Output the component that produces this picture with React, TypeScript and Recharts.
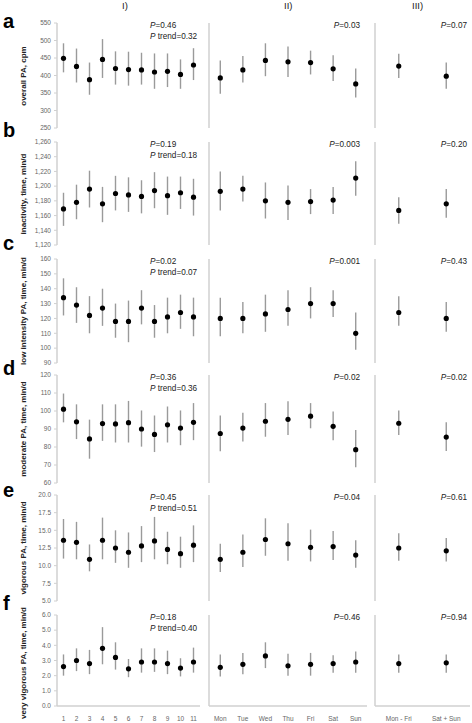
import { ComposedChart, ErrorBar, Line, XAxis, YAxis } from "recharts";

const FONT = '"Liberation Sans", Arial, sans-serif';

// categories
const CAT_TIME = ["1", "2", "3", "4", "5", "6", "7", "8", "9", "10", "11"];
const CAT_DAY = ["Mon", "Tue", "Wed", "Thu", "Fri", "Sat", "Sun"];
const CAT_PART = ["Mon - Fri", "Sat + Sun"];

// [mean, lower, upper]
const overallTime = [[449, 409, 492], [426, 380, 477], [388, 345, 437], [446, 393, 504], [420, 374, 469], [417, 371, 468], [416, 374, 465], [410, 362, 463], [412, 367, 463], [403, 362, 446], [430, 387, 478]];
const overallDay = [[393, 348, 443], [416, 380, 456], [443, 398, 492], [439, 396, 483], [437, 403, 471], [419, 384, 458], [376, 337, 420]];
const overallPart = [[427, 393, 462], [398, 362, 437]];

const inactTime = [[1169, 1146, 1191], [1178, 1155, 1202], [1196, 1171, 1221], [1176, 1151, 1199], [1190, 1167, 1214], [1188, 1165, 1212], [1186, 1163, 1208], [1194, 1170, 1219], [1187, 1161, 1213], [1191, 1169, 1213], [1185, 1160, 1210]];
const inactDay = [[1193, 1167, 1220], [1196, 1179, 1214], [1180, 1156, 1205], [1178, 1154, 1201], [1179, 1162, 1196], [1181, 1162, 1199], [1211, 1187, 1234]];
const inactPart = [[1167, 1149, 1185], [1176, 1157, 1196]];

const lightTime = [[134, 122, 147], [129, 117, 141], [122, 110, 135], [127, 115, 140], [118, 107, 130], [118, 104, 132], [127, 116, 139], [118, 107, 129], [121, 110, 134], [124, 113, 136], [121, 108, 134]];
const lightDay = [[120, 108, 134], [120, 110, 131], [123, 111, 136], [126, 115, 139], [130, 120, 141], [130, 121, 139], [110, 99, 124]];
const lightPart = [[124, 115, 135], [120, 111, 131]];

const modTime = [[101, 93.7, 109.7], [94, 84.4, 103.7], [84.5, 73.5, 95.2], [93, 83.4, 103.7], [92.8, 82.5, 103.7], [93.5, 82.5, 105.6], [90, 80.2, 100.3], [87, 77.2, 97.5], [92.3, 82.5, 102.5], [90.5, 81, 100.3], [93.7, 83.8, 104.4]];
const modDay = [[87.5, 77.6, 97.5], [90.5, 83, 99], [94.3, 85.7, 104.4], [95.4, 86.6, 105.4], [97.1, 90.4, 104.4], [91.5, 83.8, 99.7], [78.5, 68.8, 89.4]];
const modPart = [[93.2, 86.6, 100.3], [85.5, 77.8, 93.7]];

const vigTime = [[13.6, 11.0, 16.6], [13.3, 10.9, 16.2], [10.9, 9.2, 13.0], [13.6, 10.9, 16.8], [12.5, 10.4, 15.0], [11.9, 9.7, 14.7], [12.8, 10.5, 15.6], [13.5, 10.9, 16.9], [12.3, 10.2, 14.8], [11.7, 9.7, 14.1], [12.9, 10.5, 15.7]];
const vigDay = [[10.9, 9.1, 13.1], [11.9, 9.8, 14.4], [13.7, 11.4, 16.7], [13.1, 10.7, 16.0], [12.6, 10.6, 15.1], [12.7, 10.8, 14.9], [11.5, 9.7, 13.6]];
const vigPart = [[12.5, 10.7, 14.6], [12.1, 10.6, 13.9]];

const vvigTime = [[2.6, 2.0, 3.4], [3.0, 2.3, 3.8], [2.8, 2.1, 3.7], [3.8, 2.75, 5.2], [3.2, 2.4, 4.2], [2.45, 1.9, 3.1], [2.9, 2.2, 3.8], [2.9, 2.25, 3.8], [2.8, 2.1, 3.65], [2.5, 1.95, 3.15], [2.9, 2.2, 3.85]];
const vvigDay = [[2.55, 1.95, 3.4], [2.75, 2.1, 3.5], [3.3, 2.5, 4.2], [2.65, 2.0, 3.45], [2.75, 2.0, 3.5], [2.8, 2.2, 3.35], [2.9, 2.2, 3.6]];
const vvigPart = [[2.8, 2.2, 3.4], [2.85, 2.2, 3.4]];

// y ticks
const TICKS_A = [250, 300, 350, 400, 450, 500, 550];
const TICKS_B = [1120, 1140, 1160, 1180, 1200, 1220, 1240, 1260];
const TICKS_C = [90, 100, 110, 120, 130, 140, 150, 160];
const TICKS_D = [60, 65, 70, 75, 80, 85, 90, 95, 100, 105, 110, 115, 120];
const TICKS_E = [5, 7.5, 10, 12.5, 15, 17.5, 20];
const TICKS_F = [0, 1, 2, 3, 4, 5, 6];

const Y_LABELS = [
  "overall PA, cpm",
  "inactivity, time, min/d",
  "low intensity PA, time, min/d",
  "moderate PA, time, min/d",
  "vigorous PA, time, min/d",
  "very vigorous PA, time, min/d",
];
const LETTERS = ["a", "b", "c", "d", "e", "f"];
const P_TIME = ["0.46", "0.19", "0.02", "0.36", "0.45", "0.18"];
const P_TREND = ["0.32", "0.18", "0.07", "0.36", "0.51", "0.40"];
const P_DAY = ["0.03", "0.003", "0.001", "0.02", "0.04", "0.46"];
const P_PART = ["0.07", "0.20", "0.43", "0.02", "0.61", "0.94"];

const comma = (v: number) => v.toLocaleString("en-US");
const oneDec = (v: number) => v.toFixed(1);

const ROWS = [
  { time: overallTime, day: overallDay, part: overallPart, ticks: TICKS_A, fmt: String, top: 23, bottom: 128, letterY: 28 },
  { time: inactTime, day: inactDay, part: inactPart, ticks: TICKS_B, fmt: comma, top: 142, bottom: 245, letterY: 137 },
  { time: lightTime, day: lightDay, part: lightPart, ticks: TICKS_C, fmt: String, top: 259, bottom: 363, letterY: 250 },
  { time: modTime, day: modDay, part: modPart, ticks: TICKS_D, fmt: String, top: 375, bottom: 483, letterY: 375 },
  { time: vigTime, day: vigDay, part: vigPart, ticks: TICKS_E, fmt: oneDec, top: 495, bottom: 601, letterY: 497 },
  { time: vvigTime, day: vvigDay, part: vvigPart, ticks: TICKS_F, fmt: oneDec, top: 615, bottom: 706, letterY: 610 },
];

// panel columns: chart left, plot left, plot right
const COLS = [
  { x: 0, left: 57, right: 200, key: "time" },
  { x: 205, left: 209, right: 367, key: "day" },
  { x: 371, left: 375, right: 470, key: "part" },
];
const CATS: Record<string, string[]> = { time: CAT_TIME, day: CAT_DAY, part: CAT_PART };

const AXIS = "#d0d0d0";
const TICK_TEXT = "#666";

function Panel({ cats, values, ticks, fmt, col, top, bottom, showX, showY }: any) {
  const data = cats.map((c: string, i: number) => ({
    name: c,
    mean: values[i][0],
    err: [values[i][0] - values[i][1], values[i][2] - values[i][0]],
  }));
  const xH = showX ? 16 : 0;
  const domain = [ticks[0], ticks[ticks.length - 1]];
  return (
    <div style={{ position: "absolute", left: col.x, top: top - 6 }}>
      <ComposedChart
        width={col.right - col.x + 2}
        height={bottom - top + 10 + xH}
        data={data}
        margin={{ top: 6, right: 2, bottom: 4, left: 0 }}
      >
        <XAxis
          dataKey="name"
          type="category"
          scale="band"
          height={xH}
          axisLine={{ stroke: AXIS, strokeWidth: 1.5 }}
          tickLine={false}
          tick={showX ? { fill: TICK_TEXT, fontSize: 6.5, fontFamily: FONT } : false}
          tickMargin={4}
          interval={0}
        />
        <YAxis
          type="number"
          domain={domain}
          ticks={ticks}
          width={col.left - col.x}
          allowDataOverflow
          axisLine={{ stroke: AXIS, strokeWidth: 1.5 }}
          tickLine={{ stroke: AXIS }}
          tickSize={3}
          tickMargin={3}
          tickFormatter={fmt}
          tick={showY ? { fill: TICK_TEXT, fontSize: 6.5, fontFamily: FONT } : false}
        />
        <Line
          dataKey="mean"
          stroke="none"
          isAnimationActive={false}
          dot={{ r: 2.6, fill: "#000", stroke: "#000", strokeWidth: 0 }}
        >
          <ErrorBar dataKey="err" width={0} stroke="#9a9a9a" strokeWidth={1.4} direction="y" />
        </Line>
      </ComposedChart>
    </div>
  );
}

const txt = { position: "absolute" as const, fontFamily: FONT, fontSize: 8.2, color: "#222", lineHeight: "10px", whiteSpace: "nowrap" as const };

export default function App() {
  return (
    <div style={{ position: "absolute", left: 0, top: 0, width: 472, height: 723, background: "#fff", fontFamily: FONT, overflow: "hidden" }}>
      <div style={{ ...txt, fontSize: 9.5, left: 122, top: 1 }}>I)</div>
      <div style={{ ...txt, fontSize: 9.5, left: 284, top: 1 }}>II)</div>
      <div style={{ ...txt, fontSize: 9.5, left: 412, top: 1 }}>III)</div>
      {ROWS.map((row, r) => (
        <div key={r}>
          <div
            style={{
              position: "absolute",
              left: 3,
              top: row.letterY - 17,
              fontSize: 20,
              lineHeight: "20px",
              fontWeight: "bold",
              color: "#000",
            }}
          >
            {LETTERS[r]}
          </div>
          <div
            style={{
              ...txt,
              left: 23.5,
              top: (row.top + row.bottom) / 2 + (r === ROWS.length - 1 ? 2 : 0),
              fontSize: 8,
              fontWeight: "bold",
              transform: "translate(-50%, -50%) rotate(-90deg)",
            }}
          >
            {Y_LABELS[r]}
          </div>
          {COLS.map((col, c) => (
            <Panel
              key={c}
              cats={CATS[col.key]}
              values={(row as any)[col.key]}
              ticks={row.ticks}
              fmt={row.fmt}
              col={col}
              top={row.top}
              bottom={row.bottom}
              showX={r === ROWS.length - 1}
              showY={c === 0}
            />
          ))}
          <div style={{ ...txt, left: 150, top: row.top - 2 }}>
            <i>P</i>={P_TIME[r]}
          </div>
          <div style={{ ...txt, left: 150, top: row.top + 9 }}>
            <i>P</i> trend={P_TREND[r]}
          </div>
          <div style={{ ...txt, right: 472 - 360, top: row.top - 2 }}>
            <i>P</i>={P_DAY[r]}
          </div>
          <div style={{ ...txt, right: 472 - 467, top: row.top - 2 }}>
            <i>P</i>={P_PART[r]}
          </div>
        </div>
      ))}
    </div>
  );
}
